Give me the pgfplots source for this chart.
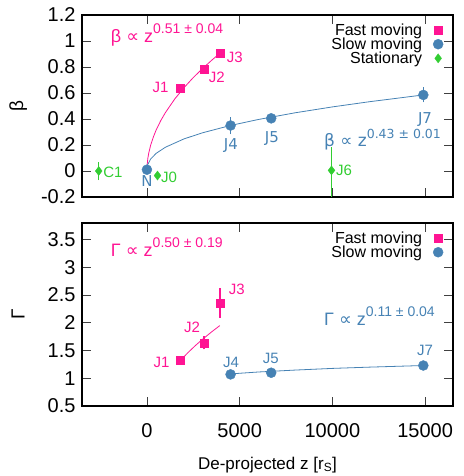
\documentclass[border=0pt]{standalone}
\usepackage{pgfplots}
\pgfplotsset{compat=1.18}
\usepackage{fontspec}
\setmainfont{Liberation Sans}
\newfontfamily\dejavu{DejaVu Sans}

\definecolor{fastc}{RGB}{255,20,147}
\definecolor{slowc}{RGB}{70,130,180}
\definecolor{statc}{RGB}{50,205,50}

\newcommand{\prop}{{\dejavu ∝}}
\tikzset{lab/.style={font=\fontsize{15}{16}\selectfont}}

\pgfplotsset{
  panel/.style={
    scale only axis, width=371pt,
    xmin=-3500, xmax=16500,
    xtick={0,5000,10000,15000}, scaled x ticks=false,
    tick align=inside, major tick length=9pt,
    tick style={black!75, line width=0.8pt},
    axis line style={line width=1.2pt},
    ticklabel style={font=\fontsize{20}{22}\selectfont},
    /pgf/number format/assume math mode=true,
    /pgf/number format/1000 sep={},
    yticklabel style={xshift=-3pt},
    ylabel style={font=\fontsize{19}{22}\selectfont, at={(axis description cs:-0.172,0.5)}, anchor=center},
    legend plot pos=right, legend cell align=right,
    legend style={draw=none, fill=none, font=\fontsize{16}{16}\selectfont,
      anchor=north east, at={(0.974,0.965)}, row sep=-3pt, inner sep=0pt,
      /tikz/every odd column/.append style={column sep=9pt}},
  }
}

\begin{document}
\begin{tikzpicture}
\useasboundingbox (0,0) rectangle (463pt,476pt);

% top panel: beta
\begin{axis}[panel, at={(82pt,279pt)}, anchor=south west, height=182pt,
  ymin=-0.2, ymax=1.2, ytick={-0.2,0,0.2,0.4,0.6,0.8,1,1.2},
  xticklabels={}, ylabel={β}]
  % fits
  \addplot[draw=fastc, line width=0.8pt, forget plot] coordinates {
    (0,0.01) (10,0.043) (50,0.098) (100,0.139) (200,0.198) (350,0.263)
    (500,0.316) (750,0.389) (1000,0.450) (1500,0.554) (2000,0.641)
    (2500,0.719) (3000,0.788) (3500,0.853) (3930,0.905)};
  \addplot[draw=slowc, line width=0.8pt, forget plot] coordinates {
    (0,0.01) (10,0.025) (50,0.051) (200,0.092) (500,0.136) (1000,0.183)
    (2000,0.247) (3000,0.294) (4500,0.350) (6000,0.396) (8000,0.448)
    (10000,0.493) (12000,0.533) (14900,0.585)};
  % error bars
  \addplot[draw=slowc, line width=1.5pt, forget plot] coordinates {(4510,0.284) (4510,0.416)};
  \addplot[draw=slowc, line width=1.5pt, forget plot] coordinates {(14900,0.527) (14900,0.643)};
  \addplot[draw=statc, line width=1.5pt, forget plot] coordinates {(-2600,-0.07) (-2600,0.07)};
  \addplot[draw=statc, line width=1.5pt, forget plot] coordinates {(9950,-0.245) (9950,0.185)};
  % data
  \addplot[only marks, mark=square*, mark size=4pt, color=fastc] table {
    x    y
    1800 0.64
    3070 0.785
    3930 0.905
  };
  \addlegendentry{Fast moving}
  \addplot[only marks, mark=*, mark size=5pt, color=slowc] table {
    x     y
    0     0.01
    4510  0.35
    6700  0.405
    14900 0.585
  };
  \addlegendentry{Slow moving}
  \addplot[only marks, mark=diamond*, mark size=4.5pt, color=statc] table {
    x     y
    -2600 0.0
    570   -0.035
    9950  0.005
  };
  \addlegendentry{Stationary}
  % labels
  \node[lab, text=fastc, anchor=east] at (axis cs:1350,0.645) {J1};
  \node[lab, text=fastc] at (axis cs:3770,0.72) {J2};
  \node[lab, text=fastc] at (axis cs:4740,0.875) {J3};
  \node[text=slowc, font=\dejavu\fontsize{15}{16}\selectfont] at (axis cs:4530,0.195) {J4};
  \node[text=slowc, font=\dejavu\fontsize{15}{16}\selectfont] at (axis cs:6740,0.248) {J5};
  \node[text=slowc, font=\dejavu\fontsize{15}{16}\selectfont] at (axis cs:14990,0.395) {J7};
  \node[text=slowc, font=\dejavu\fontsize{15}{16}\selectfont] at (axis cs:0,-0.078) {N};
  \node[lab, text=statc] at (axis cs:1190,-0.052) {J0};
  \node[lab, text=statc] at (axis cs:-1830,-0.008) {C1};
  \node[lab, text=statc] at (axis cs:10620,0.008) {J6};
  \node[anchor=base west, text=fastc, inner sep=0pt, font=\fontsize{18}{20}\selectfont]
    at (axis cs:-1950,0.99) {β \prop{} z\raisebox{0.5em}{\fontsize{14}{14}\selectfont 0.51 ± 0.04}};
  \node[anchor=base west, text=slowc, inner sep=0pt, font=\dejavu\fontsize{17}{20}\selectfont]
    at (axis cs:9540,0.186) {β ∝ z\raisebox{0.5em}{\fontsize{12.5}{14}\selectfont 0.43 ± 0.01}};
\end{axis}

% bottom panel: Gamma
\begin{axis}[panel, at={(82pt,70pt)}, anchor=south west, height=183pt,
  ymin=0.5, ymax=3.8, ytick={0.5,1,1.5,2,2.5,3,3.5},
  xticklabel style={anchor=base, yshift=-31pt},
  ylabel={Γ},
  xlabel={De-projected z [r\textsubscript{S}]},
  xlabel style={font=\fontsize{17}{20}\selectfont, at={(axis description cs:0.5,-0.322)}, anchor=center}]
  \addplot[draw=fastc, line width=0.8pt, forget plot] coordinates {
    (1780,1.31) (2200,1.459) (2600,1.586) (3000,1.704) (3500,1.84) (3930,1.95)};
  \addplot[draw=slowc, line width=0.8pt, forget plot] coordinates {
    (4510,1.079) (6000,1.113) (8000,1.148) (10000,1.178) (12000,1.201) (14900,1.23)};
  \addplot[draw=fastc, line width=1.5pt, forget plot] coordinates {(3070,1.52) (3070,1.76)};
  \addplot[draw=fastc, line width=1.5pt, forget plot] coordinates {(3930,2.09) (3930,2.63)};
  \addplot[only marks, mark=square*, mark size=4pt, color=fastc] table {
    x    y
    1780 1.32
    3070 1.64
    3930 2.36
  };
  \addlegendentry{Fast moving}
  \addplot[only marks, mark=*, mark size=5pt, color=slowc] table {
    x     y
    4510  1.07
    6700  1.10
    14900 1.23
  };
  \addlegendentry{Slow moving}
  \node[lab, text=fastc, anchor=east] at (axis cs:1400,1.285) {J1};
  \node[lab, text=fastc] at (axis cs:2430,1.91) {J2};
  \node[lab, text=fastc] at (axis cs:4850,2.61) {J3};
  \node[lab, text=slowc] at (axis cs:4530,1.285) {J4};
  \node[lab, text=slowc] at (axis cs:6680,1.35) {J5};
  \node[lab, text=slowc] at (axis cs:14990,1.50) {J7};
  \node[anchor=base west, text=fastc, inner sep=0pt, font=\fontsize{18}{20}\selectfont]
    at (axis cs:-1950,3.19) {Γ \prop{} z\raisebox{0.5em}{\fontsize{14}{14}\selectfont 0.50 ± 0.19}};
  \node[anchor=base west, text=slowc, inner sep=0pt, font=\fontsize{18}{20}\selectfont]
    at (axis cs:9540,1.95) {Γ \prop{} z\raisebox{0.5em}{\fontsize{14}{14}\selectfont 0.11 ± 0.04}};
\end{axis}
\end{tikzpicture}
\end{document}
